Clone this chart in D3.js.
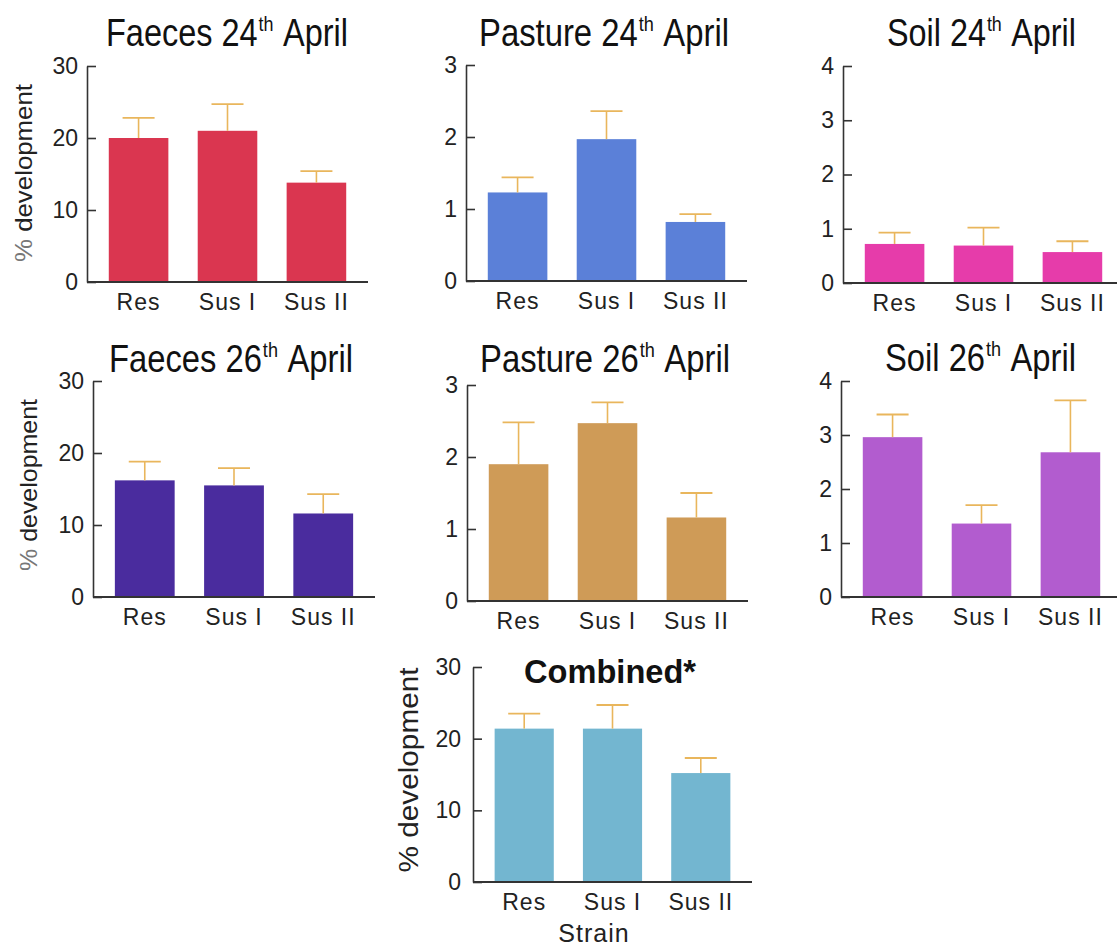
<!DOCTYPE html>
<html>
<head>
<meta charset="utf-8">
<script src="https://cdn.jsdelivr.net/npm/d3@7/dist/d3.min.js"></script>
<style>
  html, body { margin: 0; padding: 0; background: #fff; }
  svg { display: block; font-family: "Liberation Sans", Arial, Helvetica, sans-serif; }
</style>
</head>
<body>
<svg id="chart" width="1117" height="948"></svg>
<script>
// ---------- DATA ----------
const categories = ["Res", "Sus I", "Sus II"];

const faeces24Values = [20.0, 21.0, 13.8];
const faeces24Errors = [2.8, 3.7, 1.6];
const pasture24Values = [1.23, 1.97, 0.82];
const pasture24Errors = [0.21, 0.39, 0.11];
const soil24Values = [0.72, 0.69, 0.57];
const soil24Errors = [0.21, 0.33, 0.20];

const faeces26Values = [16.2, 15.5, 11.6];
const faeces26Errors = [2.6, 2.4, 2.7];
const pasture26Values = [1.90, 2.47, 1.16];
const pasture26Errors = [0.58, 0.29, 0.34];
const soil26Values = [2.96, 1.36, 2.68];
const soil26Errors = [0.42, 0.34, 0.96];

const combinedValues = [21.4, 21.4, 15.2];
const combinedErrors = [2.1, 3.3, 2.1];

const ticks30 = [0, 10, 20, 30];
const ticks3 = [0, 1, 2, 3];
const ticks4 = [0, 1, 2, 3, 4];

const titles = [
  ["Faeces 24", "th", "April"],
  ["Pasture 24", "th", "April"],
  ["Soil 24", "th", "April"],
  ["Faeces 26", "th", "April"],
  ["Pasture 26", "th", "April"],
  ["Soil 26", "th", "April"],
  ["Combined*", "", ""]
];

// ---------- LAYOUT ----------
const panels = [
  {values: faeces24Values, errors: faeces24Errors, ticks: ticks30, color: "#da3650",
   x0: 87, y0: 282, h: 216, w: 281, title: titles[0], tx: 106, ty: 46, tw: 242, ylab: {x: 23, y: 173, len: 178, grey: true}},
  {values: pasture24Values, errors: pasture24Errors, ticks: ticks3, color: "#5b80d8",
   x0: 466, y0: 281, h: 216, w: 281, title: titles[1], tx: 479, ty: 46, tw: 250},
  {values: soil24Values, errors: soil24Errors, ticks: ticks4, color: "#e63caa",
   x0: 843, y0: 283, h: 217, w: 281, title: titles[2], tx: 887, ty: 46, tw: 189},
  {values: faeces26Values, errors: faeces26Errors, ticks: ticks30, color: "#4a2c9e",
   x0: 93, y0: 597, h: 216, w: 282, title: titles[3], tx: 109, ty: 372, tw: 244, ylab: {x: 28, y: 485, len: 172, grey: true}},
  {values: pasture26Values, errors: pasture26Errors, ticks: ticks3, color: "#cf9b57",
   x0: 467, y0: 601, h: 216, w: 281, title: titles[4], tx: 480, ty: 372, tw: 250},
  {values: soil26Values, errors: soil26Errors, ticks: ticks4, color: "#b25ccf",
   x0: 841, y0: 597, h: 216, w: 281, title: titles[5], tx: 885, ty: 371, tw: 191},
  {values: combinedValues, errors: combinedErrors, ticks: ticks30, color: "#73b6d0",
   x0: 473, y0: 882, h: 215, w: 279, title: titles[6], tx: 524, ty: 683, tw: 172, bold: true,
   ylab: {x: 409, y: 770, len: 205, grey: false, fs: 27}, xlab: "Strain"}
];

const svg = d3.select("#chart");
const axisColor = "#333";
const errColor = "#e9b65c";

panels.forEach(p => {
  const g = svg.append("g");
  const yMax = p.ticks[p.ticks.length - 1];
  const y = d3.scaleLinear().domain([0, yMax]).range([p.y0, p.y0 - p.h]);
  const x = d3.scaleBand().domain(categories)
    .range([p.x0, p.x0 + p.w]).paddingInner(0.33).paddingOuter(0.245);

  // bars
  g.selectAll("rect.bar").data(categories).enter().append("rect")
    .attr("class", "bar")
    .attr("x", d => x(d))
    .attr("width", x.bandwidth())
    .attr("y", (d, i) => y(p.values[i]))
    .attr("height", (d, i) => y(0) - y(p.values[i]))
    .attr("fill", p.color);

  // error bars
  const capW = 32;
  categories.forEach((c, i) => {
    const cx = x(c) + x.bandwidth() / 2;
    g.append("line").attr("x1", cx).attr("x2", cx)
      .attr("y1", y(p.values[i])).attr("y2", y(p.values[i] + p.errors[i]))
      .attr("stroke", errColor).attr("stroke-width", 1.6);
    g.append("line").attr("x1", cx - capW / 2).attr("x2", cx + capW / 2)
      .attr("y1", y(p.values[i] + p.errors[i])).attr("y2", y(p.values[i] + p.errors[i]))
      .attr("stroke", errColor).attr("stroke-width", 1.8);
  });

  // y axis
  const yAxis = d3.axisLeft(y).tickValues(p.ticks).tickFormat(d3.format("d"))
    .tickSize(-9).tickSizeOuter(0).tickPadding(p.bold ? 12 : 9);
  const ya = g.append("g").attr("transform", `translate(${p.x0},0)`).call(yAxis);
  ya.select(".domain").attr("stroke", axisColor).attr("stroke-width", 1.6);
  ya.selectAll(".tick line").attr("stroke", axisColor).attr("stroke-width", 1.6);
  ya.selectAll(".tick text").attr("font-size", 23).attr("fill", "#222")
    .attr("font-family", "Liberation Sans, Arial, sans-serif");

  // baseline
  g.append("line").attr("x1", p.x0).attr("x2", p.x0 + p.w)
    .attr("y1", p.y0).attr("y2", p.y0)
    .attr("stroke", axisColor).attr("stroke-width", 2);

  // x axis labels
  const xAxis = d3.axisBottom(x).tickSize(0).tickPadding(12);
  const xa = g.append("g").attr("transform", `translate(0,${p.y0})`).call(xAxis);
  xa.select(".domain").remove();
  xa.selectAll(".tick text").attr("font-size", 23).attr("fill", "#222")
    .attr("letter-spacing", 1)
    .attr("font-family", "Liberation Sans, Arial, sans-serif");

  // title
  if (p.title[1]) {
    const tg = g.append("g").attr("transform", `translate(${p.tx},${p.ty})`);
    const inner = tg.append("g");
    const t1 = inner.append("text").attr("x", 0).attr("y", 0)
      .attr("font-size", 38).attr("fill", "#111").text(p.title[0]);
    const w1 = t1.node().getComputedTextLength();
    const t2 = inner.append("text").attr("x", w1 + 1).attr("y", -15)
      .attr("font-size", 21).attr("fill", "#111").text(p.title[1]);
    const w2 = t2.node().getComputedTextLength();
    const gap = 11;
    const t3 = inner.append("text").attr("x", w1 + w2 + 1 + gap).attr("y", 0)
      .attr("font-size", 38).attr("fill", "#111").text(p.title[2]);
    const w3 = t3.node().getComputedTextLength();
    const sx = p.tw / (w1 + w2 + w3 + 1 + gap);
    inner.attr("transform", `scale(${sx},1)`);
  } else {
    g.append("text")
      .attr("x", p.tx).attr("y", p.ty)
      .attr("font-size", 33).attr("font-weight", "bold").attr("fill", "#111")
      .attr("textLength", p.tw).attr("lengthAdjust", "spacingAndGlyphs")
      .text(p.title[0]);
  }

  // y label
  if (p.ylab) {
    const yl = g.append("text")
      .attr("transform", `translate(${p.ylab.x},${p.ylab.y}) rotate(-90)`)
      .attr("text-anchor", "middle").attr("dominant-baseline", "central")
      .attr("font-size", p.ylab.fs || 24).attr("fill", "#222")
      .attr("textLength", p.ylab.len).attr("lengthAdjust", "spacingAndGlyphs");
    yl.append("tspan").attr("fill", p.ylab.grey ? "#777" : "#222").text("%");
    yl.append("tspan").text(" development");
  }

  // x label
  if (p.xlab) {
    g.append("text").attr("x", 594).attr("y", 942)
      .attr("text-anchor", "middle").attr("font-size", 25).attr("fill", "#222")
      .attr("letter-spacing", 1).text(p.xlab);
  }
});
</script>
</body>
</html>
